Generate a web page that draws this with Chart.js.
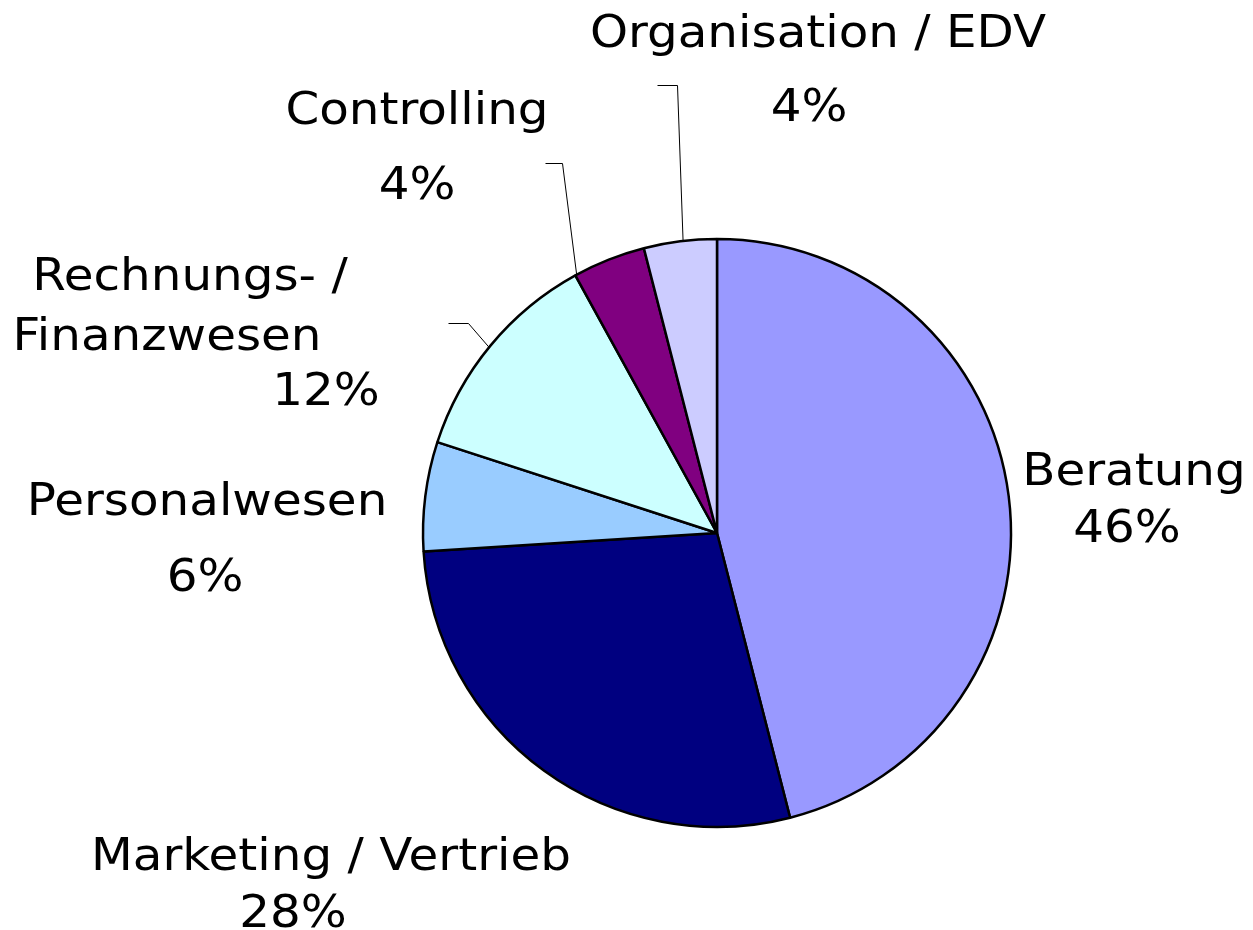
<!DOCTYPE html>
<html>
<head>
<meta charset="utf-8">
<script src="https://cdn.jsdelivr.net/npm/chart.js@4.4.1/dist/chart.umd.min.js"></script>
<style>
  body { margin: 0; background: #fff; }
  canvas { display: block; }
</style>
</head>
<body>
<canvas id="pieChart" width="1253" height="930"></canvas>
<script>
// Chart data (clockwise from 12 o'clock)
const categories = ['Beratung', 'Marketing / Vertrieb', 'Personalwesen', 'Rechnungs- / Finanzwesen', 'Controlling', 'Organisation / EDV'];
const shares = [46, 28, 6, 12, 4, 4];
const sliceColors = ['#9999FF', '#000080', '#99CCFF', '#CCFFFF', '#800080', '#CCCCFF'];

// How each category name is broken into lines on the chart
const nameLines = [
    ['Beratung'],
    ['Marketing / Vertrieb'],
    ['Personalwesen'],
    ['Rechnungs- /', 'Finanzwesen'],
    ['Controlling'],
    ['Organisation / EDV']
];

// Label layout: centre x and baseline y of each text line (name lines, then the percent)
const labelLayout = [
    { xs: [1134, 1127], ys: [485, 542] },
    { xs: [331, 293], ys: [870, 927] },
    { xs: [207, 205], ys: [515, 591] },
    { xs: [190, 167, 326], ys: [290, 350, 405] },
    { xs: [417, 417], ys: [124, 199] },
    { xs: [818, 809], ys: [47, 121] }
];

// Leader lines: where on the arc (fraction of slice) and the elbow/end points
const leaders = [
    null,
    null,
    null,
    { t: 0.49, elbow: [468, 323], end: [448, 323] },
    { t: 0.02, elbow: [562, 163], end: [545, 163] },
    { t: 0.54, elbow: [677, 85], end: [657, 85] }
];

const FONT = '45px "DejaVu Sans", Verdana, sans-serif';
const STRETCH = 1.075;

const labelPlugin = {
    id: 'outsideLabels',
    afterDatasetsDraw(chart) {
        const ctx = chart.ctx;
        const meta = chart.getDatasetMeta(0);
        ctx.save();

        // leader lines
        ctx.strokeStyle = '#000';
        ctx.lineWidth = 1;
        meta.data.forEach((arc, i) => {
            const ld = leaders[i];
            if (!ld) return;
            const p = arc.getProps(['x', 'y', 'startAngle', 'endAngle', 'outerRadius'], true);
            const a = p.startAngle + ld.t * (p.endAngle - p.startAngle);
            const ax = p.x + p.outerRadius * Math.cos(a);
            const ay = p.y + p.outerRadius * Math.sin(a);
            ctx.beginPath();
            ctx.moveTo(ax, ay);
            ctx.lineTo(ld.elbow[0] + 0.5, ld.elbow[1] + 0.5);
            ctx.lineTo(ld.end[0] + 0.5, ld.end[1] + 0.5);
            ctx.stroke();
        });

        // text
        ctx.fillStyle = '#000';
        ctx.font = FONT;
        ctx.textAlign = 'center';
        ctx.textBaseline = 'alphabetic';
        categories.forEach((cat, i) => {
            const lines = nameLines[i].concat([shares[i] + '%']);
            const lay = labelLayout[i];
            lines.forEach((txt, j) => {
                ctx.save();
                ctx.translate(lay.xs[j], lay.ys[j]);
                ctx.scale(STRETCH, 1);
                ctx.fillText(txt, 0, 0);
                ctx.restore();
            });
        });
        ctx.restore();
    }
};

new Chart(document.getElementById('pieChart'), {
    type: 'pie',
    data: {
        labels: categories,
        datasets: [{
            data: shares,
            backgroundColor: sliceColors,
            borderColor: '#000000',
            borderWidth: 2.5
        }]
    },
    options: {
        responsive: false,
        animation: false,
        radius: 294,
        layout: {
            padding: { left: 417, right: 236, top: 233, bottom: 97 }
        },
        plugins: {
            legend: { display: false },
            tooltip: { enabled: false }
        }
    },
    plugins: [labelPlugin]
});
</script>
</body>
</html>
